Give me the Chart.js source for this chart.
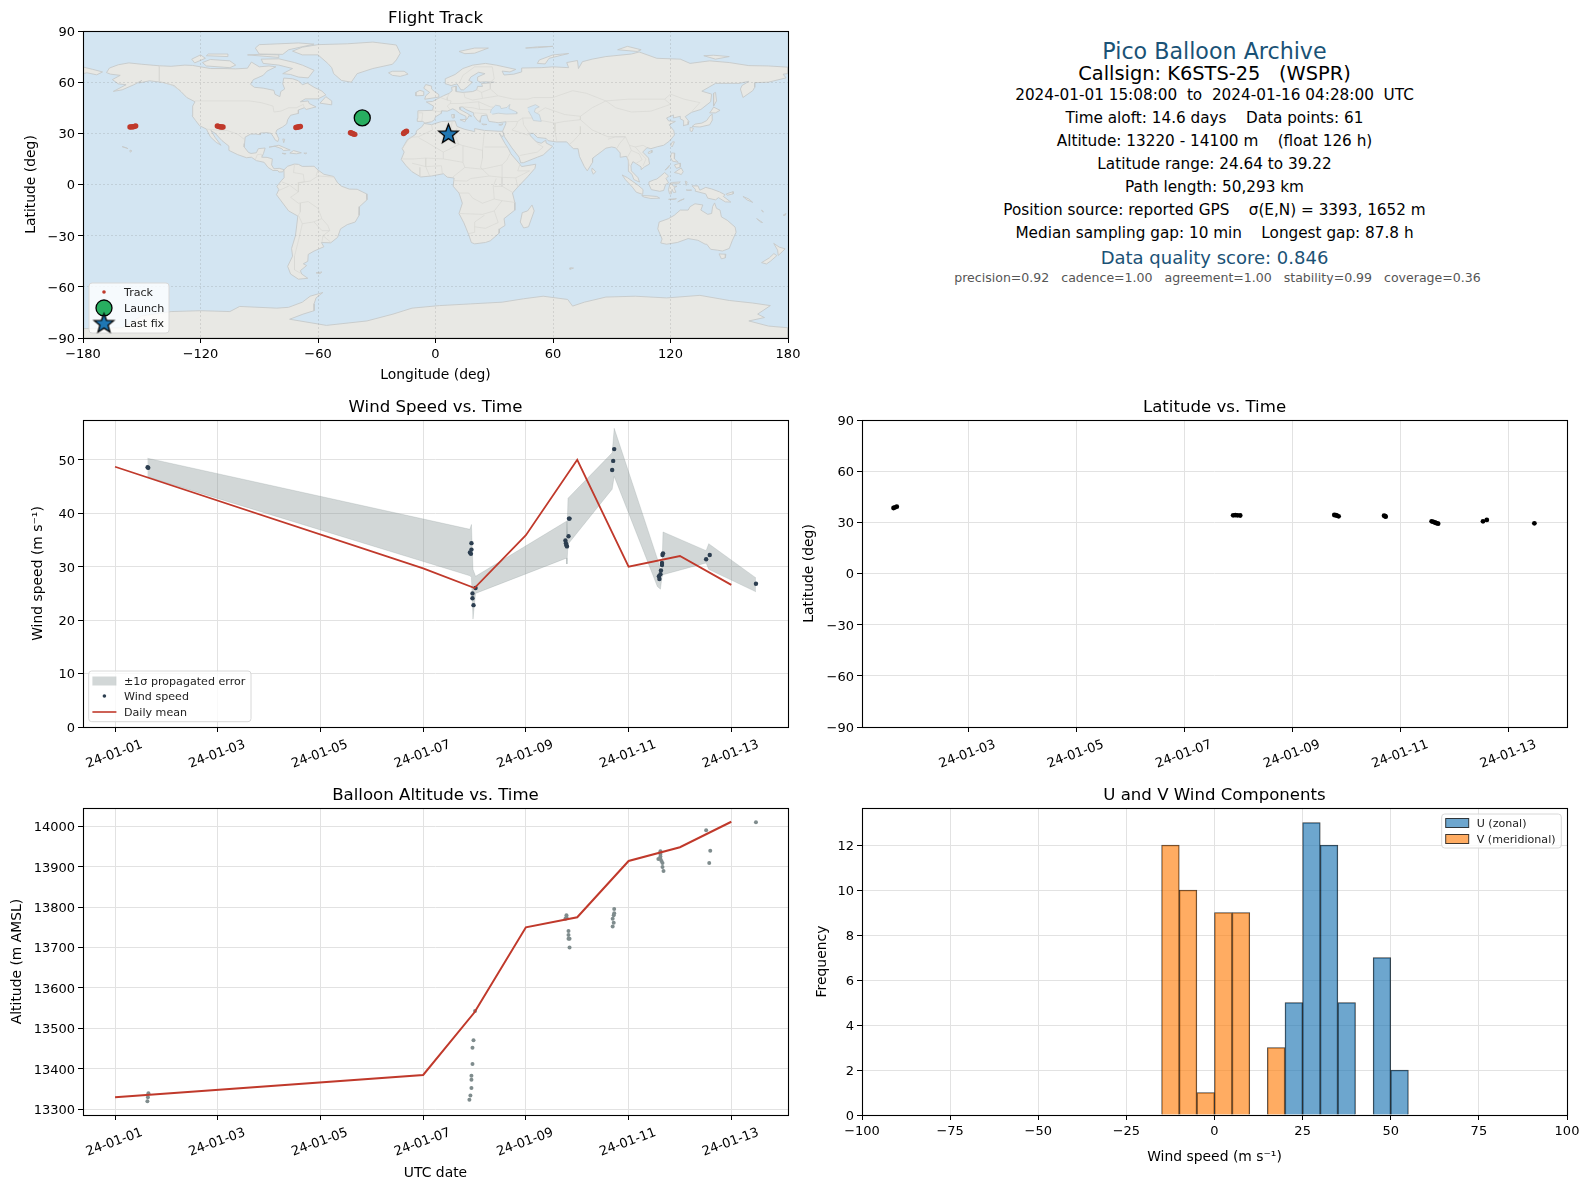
<!DOCTYPE html>
<html>
<head>
<meta charset="utf-8">
<title>Pico Balloon Archive</title>
<script src="https://cdn.jsdelivr.net/npm/chart.js@4/dist/chart.umd.min.js"></script>
<style>
  html, body { margin: 0; background: #fff; }
  #page { position: relative; width: 1590px; height: 1189px; overflow: hidden; font-family: "DejaVu Sans", sans-serif; color: #000; }
  canvas { position: absolute; }
  .info { position: absolute; left: 862px; width: 705px; text-align: center; white-space: pre; line-height: 1; transform: translateY(-50%); }
</style>
</head>
<body>
<div id="page">
  <canvas id="mapChart"></canvas>
  <canvas id="windChart"></canvas>
  <canvas id="latChart"></canvas>
  <canvas id="altChart"></canvas>
  <canvas id="histChart"></canvas>
  <div class="info" style="top:51px;font-size:22.2px;color:#1a5276">Pico Balloon Archive</div>
  <div class="info" style="top:74px;font-size:19.4px">Callsign: K6STS-25   (WSPR)</div>
  <div class="info" style="top:96px;font-size:15.25px">2024-01-01 15:08:00  to  2024-01-16 04:28:00  UTC</div>
  <div class="info" style="top:119px;font-size:15.25px">Time aloft: 14.6 days    Data points: 61</div>
  <div class="info" style="top:142px;font-size:15.25px">Altitude: 13220 - 14100 m    (float 126 h)</div>
  <div class="info" style="top:165px;font-size:15.25px">Latitude range: 24.64 to 39.22</div>
  <div class="info" style="top:188px;font-size:15.25px">Path length: 50,293 km</div>
  <div class="info" style="top:211px;font-size:15.25px">Position source: reported GPS    σ(E,N) = 3393, 1652 m</div>
  <div class="info" style="top:234px;font-size:15.25px">Median sampling gap: 10 min    Longest gap: 87.8 h</div>
  <div class="info" style="top:258px;font-size:18px;color:#1a5276">Data quality score: 0.846</div>
  <div class="info" style="top:278px;left:865px;font-size:12.55px;color:#555">precision=0.92   cadence=1.00   agreement=1.00   stability=0.99   coverage=0.36</div>
</div>
<script>
// ---- tick labels ----
const lonTicks = [-180, -120, -60, 0, 60, 120, 180];
const lonLabels = ["−180", "−120", "−60", "0", "60", "120", "180"];
const latTicks = [-90, -60, -30, 0, 30, 60, 90];
const latLabels = ["−90", "−60", "−30", "0", "30", "60", "90"];
// days since 2024-01-01 00:00 UTC
const dateTicks = [0, 2, 4, 6, 8, 10, 12];
const dateLabels = ["24-01-01", "24-01-03", "24-01-05", "24-01-07", "24-01-09", "24-01-11", "24-01-13"];
const windTicks = [0, 10, 20, 30, 40, 50];
const altTicks = [13300, 13400, 13500, 13600, 13700, 13800, 13900, 14000];
const speedTicks = [-100, -75, -50, -25, 0, 25, 50, 75, 100];
const speedLabels = ["−100", "−75", "−50", "−25", "0", "25", "50", "75", "100"];
const freqTicks = [0, 2, 4, 6, 8, 10, 12];

// ---- flight track ----
const trackLon = [-156, -155.4, -154.8, -154.3, -153.7, -153.1,
  -111.4, -110.8, -110.2, -109.7, -109.1, -108.5,
  -71.3, -70.8, -70.2, -69.6, -69,
  -43.4, -43, -42.4, -41.9, -41.2,
  -16.3, -16, -15.6, -15.2, -14.8];
const trackLat = [33.7, 33.8, 33.8, 33.9, 34.1, 34.3,
  34.3, 34.1, 33.9, 33.8, 33.7, 33.7,
  33.4, 33.6, 33.7, 33.9, 34,
  30.4, 30.2, 29.9, 29.6, 29.4,
  29.9, 30.3, 30.6, 30.9, 31.2];
const launchLon = [-37.4], launchLat = [39.06];
const lastLon = [6.6], lastLat = [29.9];

// ---- coastlines as [lon, lat] ----
const northAmerica = [[-168,65.6],[-166.5,68.3],[-162,70.2],[-156.6,71.3],[-150,70.5],[-141,69.6],[-135,69.3],[-128,70],[-124,69.8],[-115,68],[-108,68],[-102,67.8],[-96,68.2],[-94,71.8],[-90,69],[-85,69.5],[-81.5,69],[-86,66.5],[-88,64],[-93,61.5],[-94.5,58.8],[-92.5,57],[-88,56.5],[-82.5,55.2],[-82,52.9],[-79.5,51.5],[-79,54.5],[-77,56],[-78,59],[-77.5,62.4],[-73,62],[-70,60.8],[-68,58.5],[-65.5,59.5],[-62,57],[-58,54.8],[-56,52.5],[-60,50.2],[-66.5,50.2],[-69,48.5],[-65,49],[-64.5,47.5],[-61,45.5],[-66,44],[-67,45],[-70,43.7],[-70,41.7],[-74,40.6],[-75.5,38],[-76,35.5],[-78,33.8],[-81,32],[-81.5,30.5],[-80,26.8],[-80.5,25.2],[-81.8,26],[-82.8,28],[-84,30],[-86,30.4],[-89.5,30.2],[-89.5,29.2],[-92,29.6],[-94.5,29.5],[-97.2,27.8],[-97.5,24],[-97.7,22],[-95.5,18.8],[-94.2,18.2],[-91.5,18.6],[-90.5,21],[-87,21.4],[-87.8,18.3],[-88.7,16],[-86,15.9],[-83.3,15],[-83.7,11.5],[-82.5,9.2],[-79.8,9.5],[-77.4,8.7],[-78,7.4],[-80,7.3],[-80.5,8.2],[-83,8.2],[-85.5,10],[-87.5,13],[-91.5,14],[-94,16],[-96.5,15.7],[-101,17.5],[-105.5,20],[-105.5,22.5],[-109,25.7],[-112.5,30],[-114.7,31.7],[-112.5,27.5],[-109.5,23],[-112,24.7],[-115,28],[-117,32.5],[-120.5,34.5],[-122.5,37.5],[-124.3,40.3],[-124,46],[-122.8,48.5],[-127,51],[-130,54.5],[-133.5,58],[-139,59.8],[-146,60.8],[-151.5,59.5],[-150,61],[-154,58.5],[-160,55.5],[-164.5,54.6],[-158,58.5],[-162,59],[-165,61.5],[-161,64],[-166,64.7]];
const southAmerica = [[-77.4,8.6],[-75.5,10.7],[-72,12],[-70,11.8],[-68,10.6],[-62,10.7],[-60,8.5],[-57,6],[-52,4.7],[-50,1],[-48,-1],[-44,-2.7],[-40,-2.8],[-35.2,-5.5],[-35,-9],[-38.8,-13],[-39,-18],[-41,-22],[-45,-23.5],[-48.5,-26],[-50,-31],[-53.5,-34.2],[-58.3,-34],[-57,-36.5],[-62,-39],[-65,-41],[-65.2,-45],[-67.5,-46.5],[-65.8,-47.5],[-69,-50.5],[-68.3,-52.5],[-65.2,-55],[-70,-55.5],[-74,-52.5],[-75.5,-48],[-73,-42],[-73.5,-37.5],[-71.5,-30],[-70.3,-18.5],[-75,-15.5],[-81.2,-6],[-80,-3],[-81,-1],[-78.5,2.5],[-77.3,4]];
const eurasia = [[-9.3,38.7],[-9,43.2],[-1.5,43.5],[-1,46],[-4.7,48.4],[-1.5,48.7],[1.5,50.5],[4,52],[7,53.5],[8.5,55],[8.2,57],[10.6,57.7],[10.5,54.5],[14,54],[19,54.5],[21,55.5],[21.5,57.5],[24,57.5],[23.5,59.2],[28,59.6],[30,60],[25,60.2],[22.8,60],[21.3,61],[21.5,63],[25.3,65],[22,65.8],[18,63],[17,61],[18.8,60],[16.5,57.5],[14.3,55.5],[13,55.5],[11,59],[8,58],[5.3,59],[5,62],[10,64.5],[14,68],[19,70],[25.5,71],[31,70],[41,67.5],[38,66],[34,66.5],[35,64.2],[40,64.7],[44,66],[44,68.3],[54,68.5],[60,69],[68,68.5],[67,71.5],[72.5,72.7],[73,68],[75,72],[80,73.5],[87,75],[100,76.5],[104,77.7],[113,74],[125,73.5],[130,71],[140,72.5],[150,71.5],[160,69.7],[170,69.5],[180,68.8],[180,65],[177.5,64.7],[179,62.5],[170,60],[163,59.7],[163,57],[162,55],[157,51],[155.7,56],[156.5,58],[160,60.5],[155,59.3],[143,59.3],[136,54.7],[141,53],[140.5,48.5],[135.5,44],[130.7,42.3],[127.5,39.8],[129.4,37],[129,35.2],[126.4,34.5],[126.7,37.5],[125,38.5],[125,40],[121.5,39],[121.5,40.8],[118,39],[119,37.3],[122.5,37],[119.3,35],[121.7,31.5],[122,29],[119.5,25.5],[116.5,23],[113.5,22.2],[110,21],[108,21.6],[105.8,19],[108.8,15.5],[109.3,12],[106.8,10.4],[105,8.7],[105,10.3],[102.5,12.2],[100.8,13.4],[99.8,11],[100,8],[103.4,4],[104.2,1.4],[101.3,2.9],[100.3,6],[98.3,8],[98.5,14],[97.5,16.5],[94.5,16],[94.3,18.5],[92,21.5],[90,22],[87,21.3],[85,19.5],[80.3,15.5],[80.2,13],[77.5,8],[76,10.5],[73.5,16.5],[72.8,21],[70.5,21],[69,22.5],[67,25],[61.5,25],[57.5,25.7],[56.5,27],[52,27.6],[50,30],[48,30],[48.5,28.5],[50.2,26.5],[51.5,25],[54,24.2],[56.3,26],[56.5,24.3],[59.8,22.4],[55,17.3],[52,16],[45,12.8],[43.5,12.7],[42.7,16],[39,21.5],[35.2,28],[34.9,29.5],[34.3,31.3],[35.9,35.5],[36,36.8],[32,36.2],[30.5,36.5],[27.3,37],[26.5,39.5],[26.2,40.8],[23.5,40.3],[23,38],[22.8,36.5],[21.2,37.8],[19.5,40.5],[19.5,42],[15.5,44],[13.7,45.5],[12.3,45.3],[12.5,44],[16,41.8],[18.5,40],[17,40.3],[16.5,39],[15.7,38],[15.5,40],[12.3,41.7],[10.3,43.5],[8.8,44.4],[6,43],[3.2,43.2],[3,41.8],[0,39.7],[-0.5,38],[-2,36.8],[-5.4,36],[-6.5,37],[-9,37]];
const africa = [[-5.9,35.8],[-2,35.1],[3,36.9],[10,37.3],[11,34],[15,32.3],[20,31],[20,32.8],[25,31.7],[32.5,31.2],[34.3,31.2],[34.8,29.5],[34.2,27.8],[32.6,30],[35.5,24],[37.2,21],[38.5,18],[43,12],[44,10.5],[51.2,11.9],[50.8,9.5],[47,4.5],[42,-1.5],[39.3,-5],[40.5,-10.5],[40.5,-15],[35,-20],[35.5,-24],[32.8,-26],[32.5,-28.5],[28,-33],[25.5,-34],[20,-34.8],[18.3,-34],[17,-29.5],[14.5,-22.5],[12,-17],[13.7,-11],[12,-5],[9,-1],[9.5,3.8],[6,4.3],[4,6.3],[-2,5],[-7.5,4.4],[-12,7.5],[-15,11],[-17.5,14.7],[-16,19],[-17,21],[-14.5,26],[-10,29.5],[-9.7,31.5],[-6.8,34]];
const australia = [[114.2,-22],[113.5,-26],[115.7,-32],[115,-34.3],[118,-35],[123.5,-34],[129,-31.7],[134,-32.7],[137.7,-35],[138.5,-35],[140.5,-38],[144,-38.5],[146.5,-39],[150,-37.5],[151.5,-33],[153.5,-28],[153,-25],[149,-21],[146,-19],[145.3,-15],[143.5,-14],[142.5,-10.8],[141.5,-13],[141,-17],[139,-17.5],[135.5,-15],[136.5,-12],[132.5,-11.3],[130,-13],[129,-15],[125,-15],[122,-18],[119,-20]];
const greenland = [[-73,78.2],[-68,80.5],[-60,82],[-45,82.5],[-32,83.5],[-20,81.8],[-18,77],[-20,73],[-22,70.5],[-32,68],[-40,65],[-43,60],[-48,61],[-52,65],[-53,68.5],[-55,71],[-60,76],[-68,76]];
const antarctica = [[-180,-90],[-180,-84.5],[-160,-84],[-150,-77],[-135,-74.5],[-120,-74],[-105,-74.5],[-100,-71.5],[-81,-72.5],[-75,-72],[-68,-69],[-64,-65.5],[-57.5,-63.3],[-61,-66.5],[-62,-70],[-62,-74],[-67.6,-76],[-74.5,-79],[-55.7,-82.6],[-35,-80],[-21.7,-76],[-12,-72.5],[2,-71],[18,-70],[34,-69],[45,-67],[55,-65.5],[67.5,-67.4],[70,-71.3],[76,-69],[87,-66],[102,-65.5],[118,-66.5],[135,-65],[150,-68],[162,-69.5],[171,-71],[164.5,-76],[168,-78],[160,-80],[170,-83],[180,-84],[180,-90]];
const chukotkaWest = [[-180,68.9],[-175,67.5],[-170,66],[-173,64.3],[-178,65.5],[-180,65]];
const baffin = [[-80,73.7],[-72,71.5],[-68,70],[-62,67],[-65,62.5],[-70,63],[-74,64.5],[-78,65],[-73,68],[-80,70],[-88,71],[-89,73.5]];
const victoriaIsland = [[-117,69.5],[-105,68.5],[-102,70],[-105,72.5],[-115,73.3],[-119,71.5]];
const banksIsland = [[-124.5,73.5],[-123,71.3],[-117.5,74],[-120,76]];
const ellesmere = [[-90,76.5],[-78,76.3],[-75,79],[-62,82.3],[-70,83],[-90,82],[-92,80]];
const devonIsland = [[-96,76],[-80,74.5],[-80,76],[-90,76.3]];
const melvilleIsland = [[-117,75.5],[-106,75],[-106,76.5],[-116,76.5]];
const newfoundland = [[-59,47.7],[-53,46.7],[-53,49],[-56,51.5]];
const iceland = [[-24,65.5],[-22,64],[-18,63.4],[-14,64.7],[-16,66.4],[-22,66.4]];
const britain = [[-5.5,50],[1.3,51.2],[1.7,52.7],[-0.5,54.5],[-2,56],[-2,57.7],[-5,58.6],[-6,56.5],[-3,54],[-5,52]];
const ireland = [[-10,52],[-6.2,52.2],[-6,54.5],[-8,55.2],[-10,54]];
const svalbard = [[12,78],[20,80],[27,80],[20,77],[15,76.7]];
const novayaZemlya = [[52,71],[56,70.7],[58,74],[68,76.8],[60,76],[53,73]];
const franzJosef = [[46,80],[52,80.7],[60,81],[52,80.2]];
const severnaya = [[93,79],[103,78],[105,79],[98,81]];
const newSiberian = [[137,75.5],[143,73.5],[150,75],[142,75.8]];
const sakhalin = [[142,46],[143.5,49],[143,54],[142,53.5],[142,49]];
const hokkaido = [[140,42],[143,42],[145.3,43.5],[142,45.4],[141,43.5]];
const honshu = [[131,34],[135,33.7],[140,35],[141.5,38],[141.3,41.3],[140,40],[138.5,37.5],[136,36],[132.5,35.4]];
const kyushu = [[130,33.5],[131.7,33],[131,31],[130,31.5]];
const taiwan = [[121,25],[122,25],[120.8,22],[120.1,23]];
const hainan = [[108.7,19],[110.5,20],[110.5,18.8],[109,18.2]];
const luzon = [[120.5,18.5],[122.2,18.4],[122,15],[124,13],[121,13.7],[120,16]];
const mindanao = [[122,7],[125.5,9.7],[126.5,7.5],[125.5,5.8],[124,6.5]];
const visayas = [[122,11.5],[125,12.5],[125,10.2],[123,9.5]];
const palawan = [[117.2,8.4],[119.5,11.3],[119,10]];
const borneo = [[109,1.5],[111.5,2.7],[113,3.2],[115,5],[117,7],[119,5],[117.7,3.5],[119,1],[117.5,0],[116.5,-3.5],[114.5,-4],[110.2,-3],[109,0]];
const sumatra = [[95.3,5.6],[98,4],[103.5,-0.5],[106,-3],[105.8,-5.8],[102.5,-4.5],[100.5,-1.5],[97,2.8]];
const java = [[105.3,-6.5],[108.5,-6.6],[113,-7],[114.5,-8],[110,-8.2],[106.5,-7.4]];
const sulawesi = [[119.8,0.8],[121,1.2],[125,1.5],[124,0.4],[120.5,0.4],[121.5,-1],[123.3,-1],[121.8,-2],[122.8,-4.5],[121.5,-4.7],[120.8,-2.8],[120.4,-5.5],[119.5,-5.5],[119,-3]];
const halmahera = [[127.5,2],[128.5,1.5],[128,-0.5]];
const seram = [[128,-3.2],[130.8,-3.3],[129,-3.5]];
const timor = [[123.7,-10.2],[127,-8.4],[125,-9.2]];
const flores = [[119,-8.7],[123,-8.3],[122,-8.8]];
const newGuinea = [[131,-0.8],[134,-0.8],[135,-3.3],[138,-1.7],[141,-2.6],[145,-4.3],[147.8,-6],[147,-7],[150.8,-10.3],[148,-10.2],[144.5,-7.7],[143,-9],[139,-8],[138,-5.5],[133,-4],[132.7,-2.8]];
const newBritain = [[148.5,-5.5],[152,-4.2],[152,-5.5],[149,-6.3]];
const solomon = [[157,-7],[160,-8.5],[162,-10.5],[159,-9]];
const newCaledonia = [[164,-20],[167,-22.3],[166,-22]];
const vanuatu = [[166.5,-15],[167.5,-16],[167,-16]];
const fiji = [[177.5,-18],[179,-17],[178.5,-18.2]];
const sriLanka = [[80,9.7],[81.8,7.5],[80.6,6],[79.8,8]];
const madagascar = [[49.3,-12],[50.4,-15.5],[47.5,-24.8],[45,-25.5],[43.3,-22],[44.3,-16.5],[47,-15.5]];
const tasmania = [[144.8,-40.7],[148.3,-40.9],[148,-43],[146,-43.6]];
const nzNorth = [[172.7,-34.5],[175.5,-36.7],[178.5,-37.7],[177,-39.5],[175,-41.6],[174.7,-38.5]];
const nzSouth = [[172.8,-40.5],[174.3,-41.7],[171,-45],[169,-46.6],[166.5,-45.8],[170.5,-43]];
const kerguelen = [[68.7,-49.7],[70.5,-49],[69,-48.8]];
const falklands = [[-61,-51.8],[-58,-51.3],[-59,-52.3]];
const cuba = [[-85,21.9],[-80,23],[-74.2,20.2],[-77.7,19.9],[-78.5,21],[-82,22.4]];
const hispaniola = [[-74.4,18.4],[-72.5,19.9],[-68.5,18.6],[-71,18]];
const jamaica = [[-78.3,18.3],[-76.3,18.1],[-77,17.8]];
const puertoRico = [[-67.2,18.4],[-65.7,18.4],[-66.5,18]];
const bahamas = [[-78,26.7],[-77,26.5],[-77.5,24.5]];
const hawaiiBig = [[-156,20.2],[-155,19.7],[-155.8,19]];
const hawaiiOahu = [[-160,22.2],[-158,21.6],[-157,21]];
const sicily = [[12.5,38],[15.6,38.2],[15,36.7]];
const sardinia = [[8.2,41],[9.7,41],[9.5,39],[8.5,39]];
const crete = [[23.6,35.5],[26.3,35.2],[24.5,35]];
const cyprus = [[32.3,35],[34.5,35.6],[33.5,34.7]];
const landPolygons = [northAmerica, southAmerica, eurasia, africa, australia, greenland, antarctica, chukotkaWest,
  baffin, victoriaIsland, banksIsland, ellesmere, devonIsland, melvilleIsland, newfoundland, iceland, britain, ireland,
  svalbard, novayaZemlya, franzJosef, severnaya, newSiberian, sakhalin, hokkaido, honshu, kyushu, taiwan, hainan,
  luzon, mindanao, visayas, palawan, borneo, sumatra, java, sulawesi, halmahera, seram, timor, flores, newGuinea,
  newBritain, solomon, newCaledonia, vanuatu, fiji, sriLanka, madagascar, tasmania, nzNorth, nzSouth, kerguelen,
  falklands, cuba, hispaniola, jamaica, puertoRico, bahamas, hawaiiBig, hawaiiOahu, sicily, sardinia, crete, cyprus];

const caspianSea = [[47,45],[51,46.8],[53,45.5],[51,44.5],[50.5,42.5],[53,41],[54,37],[50,37.5],[49,40],[47.5,43]];
const blackSea = [[28,42],[28.5,44],[30.7,46.5],[33,46],[33.5,44.5],[36.5,45.2],[38,47],[37.5,44.5],[41.5,42.5],[41.5,41.5],[36,41.3],[32,41.8],[29,41.2]];
const waterPolygons = [caspianSea, blackSea];

// country borders, only the ones you can make out at this scale
const borderLines = [
  [[-123,49],[-95,49],[-89,48],[-83,46],[-82.5,42.5],[-79,43],[-75,45],[-71,45],[-67.5,47],[-67,45]],
  [[-141,69.6],[-141,60.3],[-135,58.5],[-130,55]],
  [[-117,32.5],[-108,31.5],[-106.5,31.7],[-101,29.5],[-97.2,26]],
  [[-92,14.5],[-91,17.5],[-89,17.8],[-88.5,15.8]],
  [[-51.5,4.3],[-60,5],[-64,2],[-70,1],[-70,-4.3],[-74,-7.5],[-70,-11],[-65,-10],[-60,-14],[-58,-20],[-55,-24],[-54,-27],[-57.5,-30],[-53.5,-33.8]],
  [[-70,-18],[-68,-23],[-70,-33],[-72,-42],[-72,-50],[-69,-52]],
  [[-72,12],[-72.5,7],[-67.5,6],[-67,1.5],[-70,1]],
  [[-78.5,1.5],[-75,0],[-70,-4.3]],
  [[-80,-3.5],[-75,-1]],
  [[-69,-11],[-69,-16],[-70,-18]],
  [[-68,-23],[-62.5,-22],[-58,-20]],
  [[-62,-22],[-58,-27],[-54,-27]],
  [[-58,-34],[-57.5,-30]],
  [[-60,8.5],[-61,5]],
  [[28,60],[28,56],[32,52],[40,50],[47,50],[50,51],[60,51],[70,55],[77,53.5],[87,49],[98,50],[107,50],[117,50],[120,53],[127,50],[135,48],[131,43]],
  [[74,38],[80,32],[88,28],[97,28],[99,23],[102,22],[106,23],[108,21.6]],
  [[87,49],[80,45],[74,40],[74,38]],
  [[87,49],[92,45],[100,42.5],[110,43],[120,47],[117,50]],
  [[74,34],[74,30],[70,25],[68.5,23.7]],
  [[74,38],[66,37],[61,36],[61,31],[62,25]],
  [[44.5,39],[45,35],[48,30]],
  [[52,42],[56,45],[66,41],[74,40]],
  [[61,36],[54,37.5]],
  [[36,36.8],[42,37],[44.5,39],[50,39]],
  [[42,37],[41,34],[39,32],[47,29],[48,30]],
  [[43,17],[52,19],[55,22],[52,24]],
  [[88,26.5],[92,28],[97,28],[94,24],[92.5,21]],
  [[99,23],[100,20],[98,16],[99,11]],
  [[102,22],[105,18],[107.5,15],[106,11]],
  [[100,20],[104,18],[105.5,14.5],[102.5,12.5]],
  [[-1.8,43.4],[3,42.5]],
  [[2.5,51],[6,49.5],[8,49],[7.5,47.5],[6,46],[7.5,43.8]],
  [[7,53.4],[6,51],[6,49.5]],
  [[7.5,47.5],[13,47.5],[17,48],[22,48.5],[28,45.5],[29.7,45.3]],
  [[14.5,54],[15,51],[19,49.5],[24,50.5],[23.5,54],[21,55.5]],
  [[24,50.5],[32,52]],
  [[28,56],[23.5,54]],
  [[22,48.5],[22.5,44],[28.5,43.8]],
  [[13.7,45.5],[19,45],[22.5,44]],
  [[20,42],[26,41.5],[26.3,40.8]],
  [[12,59],[14,64],[20,69]],
  [[20,69],[29,69],[30,62],[28,60]],
  [[-8.8,42],[-6.5,42],[-7,37.2]],
  [[-2,35.1],[-1.5,32],[-8.7,28],[-13,27.7],[-17,21]],
  [[8.5,36.9],[8,33],[9.5,30],[12,23.5],[4,19],[-4.8,25],[-8.7,27.5]],
  [[11,33],[9.5,30],[10,24.5],[14,22.8],[24,20],[25,31.7]],
  [[24,20],[24,15.5],[23,10],[27.5,5],[34,4.2],[41,3.9],[42,-1.5]],
  [[25,22],[36.8,22]],
  [[-17,15],[-11,15],[-5,15.5],[4,15],[4,19]],
  [[4,15],[14,13],[14,22.8]],
  [[14,13],[15,10],[9,4.5]],
  [[15,10],[24,9],[23,10]],
  [[-12,12.5],[-5,10.5],[3,11],[3.5,6.5]],
  [[-5,15.5],[-5,10.5],[-3,5]],
  [[-8,10],[-8,5]],
  [[9,2.3],[16,2],[18,3.5],[27.5,5]],
  [[12,-5],[17,-5],[19,-8],[24,-11],[30,-8.5],[29.5,-1],[31,3.5]],
  [[34,4.2],[34,-1],[39.5,-4.7]],
  [[30,-1.2],[34,-1]],
  [[30,-8.5],[34,-9.5],[40.5,-10.5]],
  [[12,-17],[24,-17.5],[30,-15.5],[34,-9.5]],
  [[17,-28.8],[20,-28],[20,-22],[25,-18]],
  [[20,-24.8],[25.5,-25.7],[32,-22.3],[30,-15.5]],
  [[34,11.5],[36.5,14.5],[38,18]],
  [[34,4.2],[34,11.5],[24,9]],
  [[43,11.5],[42,8],[48,8],[41,3.9]]
];

// ---- wind speed vs time ----
const windDays = [0.634, 0.647, 6.91, 6.93, 6.94, 6.94, 6.96, 6.96, 6.98, 7.02, 8.77, 8.78, 8.79, 8.8, 8.83, 8.84, 8.85,
  9.68, 9.7, 9.72, 10.59, 10.6, 10.62, 10.63, 10.65, 10.65, 10.66, 10.67, 11.51, 11.58, 12.48];
const windSpeed = [48.6, 48.5, 32.65, 32.4, 34.4, 33.2, 25, 24.1, 22.8, 26, 34.9, 34.4, 34, 33.8, 35.7, 39, 39,
  48.1, 49.8, 52, 28.2, 27.7, 28.6, 29.3, 30.7, 30.3, 32.2, 32.5, 31.4, 32.2, 26.8];
const bandDays = [0.63, 6.91, 6.94, 6.97, 7.02, 8.79, 8.8, 8.82, 9.68, 9.72, 10.56, 10.62, 10.65, 10.67, 11.51, 11.56, 12.48];
const bandUpper = [50.3, 37, 37.9, 29.5, 28.2, 38.5, 36, 42.8, 51.3, 55.9, 31.5, 29.5, 29.5, 36.5, 33, 34.3, 27.9];
const bandLower = [46.8, 28.3, 28, 20.2, 25, 31.6, 30.5, 34.2, 44.5, 46.9, 26.3, 25.8, 28, 28.5, 30.7, 29.5, 25.3];
const meanDays = [0, 6, 7, 8, 9, 10, 11, 12];
const meanWind = [48.7, 29.7, 26, 35.9, 50, 30, 32, 26.6];

// ---- latitude vs time ----
const latDays = [0.62, 0.65, 0.68, 6.9, 6.94, 6.98, 7.03, 8.77, 8.8, 8.82, 8.85, 9.69, 9.71, 9.72,
  10.57, 10.6, 10.63, 10.66, 10.69, 11.52, 11.59, 12.47];
const latValues = [38.4, 38.8, 39.2, 34.1, 34.2, 34.1, 34, 34.3, 34.2, 33.9, 33.5, 33.9, 33.6, 33.3,
  30.6, 30.3, 29.9, 29.5, 29.2, 30.6, 31.4, 29.4];

// ---- altitude vs time ----
const altDays = [0.63, 0.64, 0.65, 6.9, 6.92, 6.94, 6.94, 6.94, 6.96, 6.96, 6.98, 7.01,
  8.77, 8.79, 8.79, 8.83, 8.83, 8.83, 8.85, 8.85, 9.69, 9.69, 9.71, 9.71, 9.72, 9.72,
  10.58, 10.62, 10.62, 10.62, 10.62, 10.64, 10.66, 10.66, 10.68, 11.51, 11.57, 11.59, 12.48];
const altValues = [13320, 13330, 13340, 13324, 13334, 13353, 13373, 13383, 13412, 13452, 13471, 13543,
  13771, 13775, 13780, 13741, 13731, 13722, 13722, 13700, 13752, 13771, 13761, 13780, 13785, 13795,
  13919, 13919, 13925, 13931, 13938, 13914, 13909, 13899, 13889, 13990, 13909, 13939, 14010];
const meanAlt = [13330, 13385, 13540, 13750, 13775, 13914, 13948, 14011];

// ---- U / V histograms, 5 m/s bins ----
const uBinCenters = [22.5, 27.5, 32.5, 37.5, 47.5, 52.5];
const uCounts = [5, 13, 12, 5, 7, 2];
const vBinCenters = [-12.5, -7.5, -2.5, 2.5, 7.5, 17.5];
const vCounts = [12, 10, 1, 9, 9, 3];

// ---- plotting ----
const FONT = '"DejaVu Sans", sans-serif';
Chart.defaults.font.family = FONT;
Chart.defaults.font.size = 13;
Chart.defaults.color = "#000";
Chart.defaults.animation = false;

const RED = "#c0392b", NAVY = "#2c3e50", GREY = "#7f8c8d", GREEN = "#27ae60", BLUE = "#1f77b4";

const pts = (xs, ys) => xs.map((x, i) => ({ x, y: ys[i] }));
const lonLat = coords => coords.map(([x, y]) => ({ x, y }));

// filled star marker, chart.js only has an asterisk one
function starMarker(r) {
  const c = document.createElement("canvas");
  c.width = c.height = Math.ceil(r * 2 + 4);
  const ctx = c.getContext("2d");
  ctx.translate(c.width / 2, c.height / 2 + 0.8);
  ctx.beginPath();
  for (let i = 0; i < 10; i++) {
    const rr = i % 2 ? r * 0.42 : r;
    const a = -Math.PI / 2 + i * Math.PI / 5;
    ctx.lineTo(rr * Math.cos(a), rr * Math.sin(a));
  }
  ctx.closePath();
  ctx.fillStyle = BLUE;
  ctx.fill();
  ctx.lineWidth = 1.3;
  ctx.lineJoin = "miter";
  ctx.strokeStyle = "#000";
  ctx.stroke();
  return c;
}
const star = starMarker(10.2);

// frame on all four sides + ocean colour
const framePlugin = {
  id: "frame",
  beforeDraw(chart, args, opts) {
    if (!opts.background) return;
    const a = chart.chartArea;
    chart.ctx.fillStyle = opts.background;
    chart.ctx.fillRect(a.left, a.top, a.right - a.left, a.bottom - a.top);
  },
  afterDraw(chart) {
    const a = chart.chartArea, ctx = chart.ctx;
    ctx.save();
    ctx.strokeStyle = "#000";
    ctx.lineWidth = 1.1;
    ctx.strokeRect(Math.round(a.left) + 0.5, Math.round(a.top) + 0.5, Math.round(a.right - a.left), Math.round(a.bottom - a.top));
    ctx.restore();
  }
};

// legends sit inside the axes like matplotlib's
const insetLegend = {
  id: "insetLegend",
  afterDraw(chart, args, opts) {
    if (!opts.items) return;
    const a = chart.chartArea, ctx = chart.ctx;
    const bx = a.left + opts.x, by = a.top + opts.y;
    ctx.save();
    ctx.beginPath();
    ctx.roundRect(bx, by, opts.w, opts.h, 3);
    ctx.fillStyle = "rgba(255,255,255,0.8)";
    ctx.fill();
    ctx.strokeStyle = "#d8d8d8";
    ctx.lineWidth = 1;
    ctx.stroke();
    ctx.font = "11.1px " + FONT;
    ctx.textBaseline = "middle";
    opts.items.forEach(it => {
      const ry = a.top + it.y, sx = a.left + opts.swatchX, sw = opts.swatchW;
      if (it.kind === "patch") {
        ctx.fillStyle = it.color;
        ctx.fillRect(sx, ry - 4.5, sw, 9);
        if (it.edge) { ctx.strokeStyle = it.edge; ctx.lineWidth = 1; ctx.strokeRect(sx, ry - 4.5, sw, 9); }
      } else if (it.kind === "line") {
        ctx.strokeStyle = it.color; ctx.lineWidth = 1.6;
        ctx.beginPath(); ctx.moveTo(sx, ry); ctx.lineTo(sx + sw, ry); ctx.stroke();
      } else if (it.kind === "dot") {
        ctx.fillStyle = it.color;
        ctx.beginPath(); ctx.arc(sx + sw / 2, ry, it.r, 0, Math.PI * 2); ctx.fill();
      } else if (it.kind === "circle") {
        ctx.fillStyle = it.color; ctx.strokeStyle = "#000"; ctx.lineWidth = 1.3;
        ctx.beginPath(); ctx.arc(sx + sw / 2, ry, it.r, 0, Math.PI * 2); ctx.fill(); ctx.stroke();
      } else if (it.kind === "star") {
        ctx.drawImage(star, sx + sw / 2 - star.width / 2, ry - star.height / 2);
      }
      ctx.fillStyle = "#222";
      ctx.fillText(it.label, a.left + opts.textX, ry + 1.5);
    });
    ctx.restore();
  }
};
Chart.register(framePlugin, insetLegend);

// x/y scale with fixed ticks and a fixed outer size so the axes boxes land where they should
function axis(o) {
  return {
    type: "linear",
    min: o.min, max: o.max,
    offset: false,
    afterBuildTicks: s => { s.ticks = o.ticks.map(v => ({ value: v })); },
    afterFit: s => { if (o.width) s.width = o.width; if (o.height) s.height = o.height; },
    ticks: {
      autoSkip: false,
      includeBounds: false,
      padding: o.rotated ? 5 : (o.height ? 4 : 3),
      color: "#000",
      font: { size: 13 },
      minRotation: o.rotated ? 20 : 0,
      maxRotation: o.rotated ? 20 : 0,
      labelOffset: o.rotated ? 27 : (o.height ? 0 : 1.5),
      callback: (v, i) => (o.labels ? o.labels[i] : String(v))
    },
    grid: {
      color: o.gridColor || "#e2e2e2",
      lineWidth: 1,
      offset: false,
      tickLength: 5,
      tickColor: "#000",
      z: o.gridOnTop ? 1 : -1
    },
    border: { display: false, dash: o.gridDash || [] },
    title: { display: !!o.title, text: o.title, font: { size: 13.9, lineHeight: "16px" }, color: "#000", padding: 0 }
  };
}

function baseOptions(title, x, y, plugins) {
  return {
    responsive: false,
    maintainAspectRatio: false,
    animation: false,
    layout: { padding: { right: 30 } },
    elements: { line: { tension: 0 } },
    scales: { x, y },
    plugins: Object.assign({
      legend: { display: false },
      tooltip: { enabled: false },
      title: {
        display: true, text: title, fullSize: false, color: "#000",
        font: { size: 16.6, weight: "normal", lineHeight: "20px" },
        padding: { top: 3, bottom: 2 }
      }
    }, plugins)
  };
}

// build the chart, then size and move the canvas so chartArea == wanted box
function makeChart(id, box, type, datasets, options) {
  const canvas = document.getElementById(id);
  canvas.width = box.w + 120;
  canvas.height = box.h + 110;
  const chart = new Chart(canvas, { type, data: { datasets }, options });
  const a = chart.chartArea;
  chart.resize(chart.width + box.w - (a.right - a.left), chart.height + box.h - (a.bottom - a.top));
  const b = chart.chartArea;
  canvas.style.left = (box.x - b.left) + "px";
  canvas.style.top = (box.y - b.top) + "px";
  return chart;
}

const MAP_GRID = "rgba(120,120,120,0.2)";

// 1) flight track
const mapDatasets = [
  { data: pts(lastLon, lastLat), showLine: false, pointStyle: star, pointRadius: 11, order: 0 },
  { data: pts(launchLon, launchLat), showLine: false, pointRadius: 8, pointBackgroundColor: GREEN, pointBorderColor: "#000", pointBorderWidth: 1.3, order: 1 },
  { data: pts(trackLon, trackLat), showLine: false, pointRadius: 2.7, pointBackgroundColor: RED, pointBorderWidth: 0, order: 2 }
];
waterPolygons.forEach(p => mapDatasets.push({
  data: lonLat(p), fill: "shape", backgroundColor: "#d3e5f2", borderColor: "#c4cbce", borderWidth: 0.7, pointRadius: 0, order: 5
}));
borderLines.forEach(p => mapDatasets.push({
  data: lonLat(p), fill: false, borderColor: "#d8d8d4", borderWidth: 0.7, pointRadius: 0, order: 6
}));
landPolygons.forEach(p => mapDatasets.push({
  data: lonLat(p.concat([p[0]])), fill: "shape", backgroundColor: "#e8e8e4", borderColor: "#c6c9c9", borderWidth: 0.9, pointRadius: 0, order: 10
}));
makeChart("mapChart", { x: 83, y: 31, w: 705, h: 307 }, "line", mapDatasets, baseOptions(
  "Flight Track",
  axis({ min: -180, max: 180, ticks: lonTicks, labels: lonLabels, title: "Longitude (deg)", height: 45, gridColor: MAP_GRID, gridDash: [2, 2], gridOnTop: true }),
  axis({ min: -90, max: 90, ticks: latTicks, labels: latLabels, title: "Latitude (deg)", width: 60, gridColor: MAP_GRID, gridDash: [2, 2], gridOnTop: true }),
  {
    frame: { background: "#d3e5f2" },
    insetLegend: {
      x: 6, y: 252, w: 80, h: 50, swatchX: 9, swatchW: 24, textX: 41,
      items: [
        { label: "Track", kind: "dot", color: RED, r: 1.8, y: 261 },
        { label: "Launch", kind: "circle", color: GREEN, r: 8, y: 277 },
        { label: "Last fix", kind: "star", y: 292 }
      ]
    }
  }
));

// 2) wind speed
makeChart("windChart", { x: 83, y: 420, w: 705, h: 307 }, "line", [
  { data: pts(meanDays, meanWind), borderColor: RED, borderWidth: 1.8, pointRadius: 0, fill: false, order: 0 },
  { data: pts(windDays, windSpeed), showLine: false, pointRadius: 2.2, pointBackgroundColor: NAVY, pointBorderWidth: 0, order: 1 },
  { data: pts(bandDays, bandUpper), borderColor: "rgba(127,140,141,0.35)", borderWidth: 0.6, pointRadius: 0, fill: "+1", backgroundColor: "rgba(127,140,141,0.35)", order: 2 },
  { data: pts(bandDays, bandLower), borderColor: "rgba(127,140,141,0.35)", borderWidth: 0.6, pointRadius: 0, fill: false, order: 3 }
], baseOptions(
  "Wind Speed vs. Time",
  axis({ min: -0.624, max: 13.104, ticks: dateTicks, labels: dateLabels, rotated: true, height: 60 }),
  axis({ min: 0, max: 57.45, ticks: windTicks, title: "Wind speed (m s⁻¹)", width: 53 }),
  {
    insetLegend: {
      x: 5.7, y: 251, w: 162.3, h: 50.7, swatchX: 9.4, swatchW: 24, textX: 41,
      items: [
        { label: "±1σ propagated error", kind: "patch", color: "rgba(127,140,141,0.35)", y: 261 },
        { label: "Wind speed", kind: "dot", color: NAVY, r: 1.8, y: 276 },
        { label: "Daily mean", kind: "line", color: RED, y: 292 }
      ]
    }
  }
));

// 3) latitude
makeChart("latChart", { x: 862, y: 420, w: 705, h: 307 }, "scatter", [
  { data: pts(latDays, latValues), pointRadius: 2.4, pointBackgroundColor: "#000", pointBorderWidth: 0 }
], baseOptions(
  "Latitude vs. Time",
  axis({ min: 0.037, max: 13.073, ticks: dateTicks.slice(1), labels: dateLabels.slice(1), rotated: true, height: 60 }),
  axis({ min: -90, max: 90, ticks: latTicks, labels: latLabels, title: "Latitude (deg)", width: 61 }),
  {}
));

// 4) altitude
makeChart("altChart", { x: 83, y: 808, w: 705, h: 307 }, "line", [
  { data: pts(meanDays, meanAlt), borderColor: RED, borderWidth: 2, pointRadius: 0, fill: false, order: 0 },
  { data: pts(altDays, altValues), showLine: false, pointRadius: 2, pointBackgroundColor: GREY, pointBorderWidth: 0, order: 1 }
], baseOptions(
  "Balloon Altitude vs. Time",
  axis({ min: -0.624, max: 13.104, ticks: dateTicks, labels: dateLabels, rotated: true, title: "UTC date", height: 66 }),
  axis({ min: 13286, max: 14045, ticks: altTicks, title: "Altitude (m AMSL)", width: 74 }),
  {}
));

// 5) histogram of U and V
makeChart("histChart", { x: 862, y: 808, w: 705, h: 307 }, "bar", [
  { data: pts(uBinCenters, uCounts), backgroundColor: "rgba(31,119,180,0.65)", borderColor: "rgba(0,0,0,0.75)", borderWidth: 0.8, barPercentage: 1, categoryPercentage: 1, grouped: false },
  { data: pts(vBinCenters, vCounts), backgroundColor: "rgba(255,127,14,0.65)", borderColor: "rgba(0,0,0,0.75)", borderWidth: 0.8, barPercentage: 1, categoryPercentage: 1, grouped: false }
], baseOptions(
  "U and V Wind Components",
  axis({ min: -100, max: 100, ticks: speedTicks, labels: speedLabels, title: "Wind speed (m s⁻¹)", height: 50 }),
  axis({ min: 0, max: 13.65, ticks: freqTicks, title: "Frequency", width: 48 }),
  {
    insetLegend: {
      x: 579.7, y: 6, w: 119.6, h: 34, swatchX: 583.7, swatchW: 23, textX: 614.7,
      items: [
        { label: "U (zonal)", kind: "patch", color: "rgba(31,119,180,0.65)", edge: "rgba(0,0,0,0.75)", y: 15 },
        { label: "V (meridional)", kind: "patch", color: "rgba(255,127,14,0.65)", edge: "rgba(0,0,0,0.75)", y: 31 }
      ]
    }
  }
));
</script>
</body>
</html>
